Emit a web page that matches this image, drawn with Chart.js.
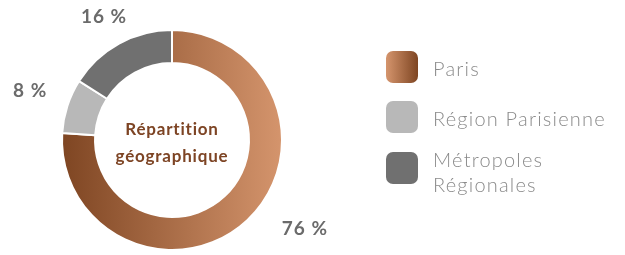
<!DOCTYPE html>
<html>
<head>
<meta charset="utf-8">
<script src="https://cdn.jsdelivr.net/npm/chart.js@4/dist/chart.umd.min.js"></script>
<style>
  html, body { margin: 0; padding: 0; background: #fff; }
  #wrap { width: 625px; height: 255px; position: relative; }
</style>
</head>
<body>
<div id="wrap"><canvas id="graph" width="625" height="255"></canvas></div>
<script>
const categories = ["Paris", "Région Parisienne", ["Métropoles", "Régionales"]];
const shares = [76, 8, 16];
const pctLabels = ["76 %", "8 %", "16 %"];
const centerTitle = ["Répartition", "géographique"];

const greyLight = "#b8b8b8";
const greyDark = "#707070";
const brownDark = "#7e4522";
const brownLight = "#d5956d";

// label placement: shift of angle (deg) and distance from centre
const labelShift = [-13, 1, 0];
const labelDist = [160, 150, 141];

function sliceColor(ctx) {
  const chart = ctx.chart;
  const a = chart.chartArea;
  if (!a) return brownDark;
  if (ctx.dataIndex !== 0) return ctx.dataIndex === 1 ? greyLight : greyDark;
  const g = chart.ctx.createLinearGradient(a.left, 0, a.right, 0);
  g.addColorStop(0, brownDark);
  g.addColorStop(1, brownLight);
  return g;
}

const extras = {
  id: "extras",
  afterDraw(chart) {
    const c = chart.ctx;
    const meta = chart.getDatasetMeta(0);
    const arc0 = meta.data[0];
    const cx = arc0.x, cy = arc0.y;

    // centre title
    c.save();
    c.fillStyle = "#7d4424";
    c.font = "bold 17px Lato";
    c.letterSpacing = "0.8px";
    c.textAlign = "center";
    c.textBaseline = "middle";
    c.fillText(centerTitle[0], cx, cy - 10);
    c.fillText(centerTitle[1], cx, cy + 17);

    // percentage labels
    c.fillStyle = "#6b6b6b";
    c.font = "bold 19px Lato";
    c.letterSpacing = "1px";
    meta.data.forEach((arc, i) => {
      const mid = (arc.startAngle + arc.endAngle) / 2 + labelShift[i] * Math.PI / 180;
      const x = cx + Math.cos(mid) * labelDist[i];
      const y = cy + Math.sin(mid) * labelDist[i];
      c.fillText(pctLabels[i], x, y);
    });

    // legend
    const boxX = 386, size = 32;
    const boxY = [51, 101, 152];
    c.textAlign = "left";
    c.textBaseline = "alphabetic";
    c.font = "300 20px Lato";
    c.letterSpacing = "1.2px";
    categories.forEach((lab, i) => {
      let fill;
      if (i === 0) {
        fill = c.createLinearGradient(boxX, 0, boxX + size, 0);
        fill.addColorStop(0, brownLight);
        fill.addColorStop(1, brownDark);
      } else {
        fill = i === 1 ? greyLight : greyDark;
      }
      c.fillStyle = fill;
      c.beginPath();
      c.roundRect(boxX, boxY[i], size, size, 7);
      c.fill();
      c.fillStyle = "#8a8a8a";
      const lines = Array.isArray(lab) ? lab : [lab];
      const base = lines.length > 1 ? boxY[i] + 15 : boxY[i] + 25;
      lines.forEach((t, k) => c.fillText(t, 433, base + k * 25));
    });
    c.restore();
  }
};

new Chart(document.getElementById("graph"), {
  type: "doughnut",
  data: {
    labels: categories,
    datasets: [{
      data: shares,
      backgroundColor: sliceColor,
      borderColor: "#ffffff",
      borderWidth: 2
    }]
  },
  options: {
    responsive: false,
    animation: false,
    cutout: "70%",
    layout: { padding: { left: 61, right: 342, top: 29, bottom: 4 } },
    plugins: { legend: { display: false }, tooltip: { enabled: false } }
  },
  plugins: [extras]
});
</script>
</body>
</html>
